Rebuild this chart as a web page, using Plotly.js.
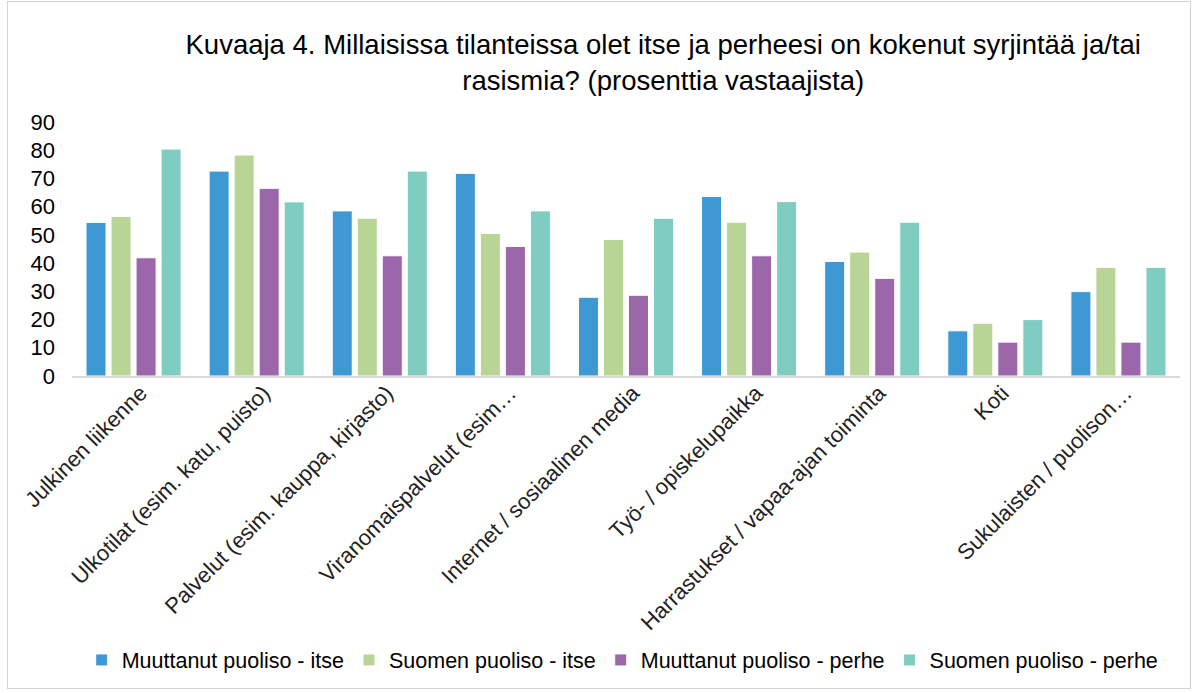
<!DOCTYPE html>
<html>
<head>
<meta charset="utf-8">
<script src="https://cdn.plot.ly/plotly-3.0.1.min.js"></script>
<style>
  html, body { margin: 0; padding: 0; background: #fff; }
  #frame { position: absolute; left: 7px; top: 1px; width: 1184px; height: 688px; border: 1px solid #d4d4d4; box-sizing: border-box; pointer-events: none; }
  #chart { position: absolute; left: 0; top: 0; width: 1195px; height: 693px; }
</style>
</head>
<body>
<div id="chart"></div>
<div id="frame"></div>
<script>
const categories = [
  "Julkinen liikenne",
  "Ulkotilat (esim. katu, puisto)",
  "Palvelut (esim. kauppa, kirjasto)",
  "Viranomaispalvelut (esim…",
  "Internet / sosiaalinen media",
  "Työ- / opiskelupaikka",
  "Harrastukset / vapaa-ajan toiminta",
  "Koti",
  "Sukulaisten / puolison…"
];
const seriesNames = [
  "Muuttanut puoliso - itse",
  "Suomen puoliso - itse",
  "Muuttanut puoliso - perhe",
  "Suomen puoliso - perhe"
];
const muuttanutItse  = [54.4, 72.6, 58.5, 71.8, 27.9, 63.6, 40.6, 16.0, 29.9];
const suomenItse     = [56.5, 78.3, 55.9, 50.5, 48.4, 54.5, 43.9, 18.7, 38.5];
const muuttanutPerhe = [41.9, 66.5, 42.6, 45.9, 28.6, 42.6, 34.6, 12.0, 12.0];
const suomenPerhe    = [80.4, 61.7, 72.6, 58.5, 55.9, 61.8, 54.5, 20.0, 38.5];
const yTicks = [0, 10, 20, 30, 40, 50, 60, 70, 80, 90];

const colors = ["#3e98d4", "#b8d596", "#9c67aa", "#7fcdc1"];
const values = [muuttanutItse, suomenItse, muuttanutPerhe, suomenPerhe];

const traces = values.map((v, i) => ({
  type: "bar",
  name: seriesNames[i],
  x: categories,
  y: v,
  marker: { color: colors[i], line: { color: "#ffffff", width: 1 } },
  hoverinfo: "x+y+name"
}));

const layout = {
  width: 1195,
  height: 693,
  paper_bgcolor: "#ffffff",
  plot_bgcolor: "#ffffff",
  font: { family: "Liberation Sans, Arial, sans-serif", color: "#000000" },
  margin: { l: 72, r: 15, t: 122, b: 317 },
  title: {
    text: "Kuvaaja 4. Millaisissa tilanteissa olet itse ja perheesi on kokenut syrjintää ja/tai<br>rasismia? (prosenttia vastaajista)",
    font: { size: 27.5, color: "#000000", family: "Liberation Sans, Arial, sans-serif" },
    x: 0.555,
    xanchor: "center",
    y: 0.922,
    yanchor: "top"
  },
  barmode: "group",
  bargap: 0.187,
  bargroupgap: 0.2,
  xaxis: {
    type: "category",
    tickangle: -45,
    tickfont: { size: 22, color: "#222222" },
    showgrid: false,
    showline: true,
    linecolor: "#d9d9d9",
    linewidth: 1.5,
    ticks: "",
    ticklabelshift: 7,
    ticklabelstandoff: -6,
    automargin: false
  },
  yaxis: {
    range: [0, 90],
    tickvals: yTicks,
    ticktext: yTicks.map(String),
    tickfont: { size: 22, color: "#000000" },
    showgrid: false,
    zeroline: false,
    showline: false,
    ticks: "",
    ticklabelstandoff: 16,
    automargin: false
  },
  legend: {
    orientation: "h",
    x: 0.497,
    xanchor: "center",
    y: -1.118,
    yanchor: "middle",
    font: { size: 21.5, color: "#000000" },
    itemwidth: 30,
    tracegroupgap: 0
  },
  showlegend: true
};

Plotly.newPlot("chart", traces, layout, { displayModeBar: false, staticPlot: true });
</script>
</body>
</html>
